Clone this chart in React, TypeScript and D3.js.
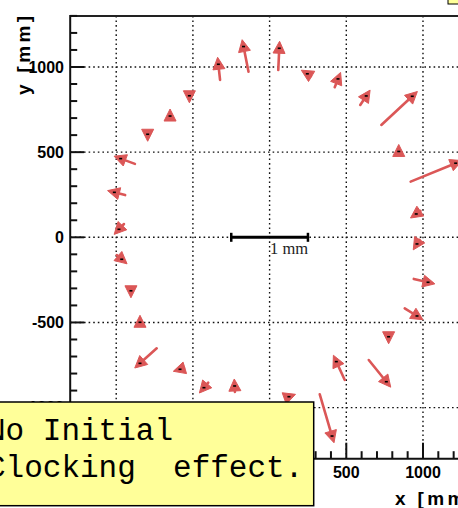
import React from "react";
import * as d3 from "d3";

// Measured positions (dot centres) in mm-units of the plot
const pointX = [-334, -170, 63, 246, 446, 630, 930, 842, 1213, 956, 961, 1033, 961, 776, 761, 435, 407, 126, -228, -428, -584, -845, -845, -904, -964, -982, -1012, -971, -795, -649, -523];
const pointY = [1016, 1120, 1110, 960, 930, 830, 828, 504, 435, 137, -39, -264, -462, -584, -848, -730, -1167, -936, -873, -883, -775, -740, -499, -314, -129, 47, 264, 462, 605, 712, 831];
// Displacement vectors in mm (scale bar: 1 mm)
const shiftX = [-0.022, -0.065, 0.013, -0.048, 0.043, 0.078, 0.403, 0, 0.587, -0.055, -0.033, 0.186, 0.16, 0, 0.229, -0.11, 0.16, 0.046, -0.004, -0.056, -0.052, -0.218, 0, 0, 0.065, -0.065, -0.14, -0.186, 0, 0, 0];
const shiftY = [0.184, 0.296, 0.255, 0.026, 0.097, 0.106, 0.337, 0.035, 0.216, -0.035, -0.047, -0.039, -0.09, -0.035, -0.255, 0.215, -0.49, 0.015, 0.07, -0.059, -0.014, -0.176, 0.032, -0.032, -0.05, -0.062, 0.032, 0.062, -0.035, 0.035, -0.035];

const axisDomain = [-1300, 1300];
const xTicks = [-1000, -500, 0, 500, 1000];
const yTicks = [-1000, -500, 0, 500, 1000];
const unitsPerMm = 500;
const scaleBarLabel = "1 mm";
const xTitle = "x [mm]";
const yTitle = "y [mm]";
const boxLines = ["No Initial", "Clocking  effect."];

const RED = "#db5757";

export default function App() {
  const W = 458;
  const H = 508;
  const x = d3.scaleLinear().domain(axisDomain).range([70.2, 469]);
  const y = d3.scaleLinear().domain(axisDomain).range([458.7, 15.9]);
  const minor = d3.range(axisDomain[0], axisDomain[1] + 1, 100);
  const [x0, x1] = x.range();
  const [y0, y1] = y.range();

  const arrows = pointX.map((px0, i) => {
    const px = x(px0);
    const py = y(pointY[i]);
    const tx = x(px0 - shiftX[i] * unitsPerMm);
    const ty = y(pointY[i] - shiftY[i] * unitsPerMm);
    let dx = px - tx;
    let dy = py - ty;
    const len = Math.hypot(dx, dy);
    if (len < 1e-6) { dx = 0; dy = -1; } else { dx /= len; dy /= len; }
    const nx = -dy, ny = dx;
    const tip = [px + 7 * dx, py + 7 * dy];
    const b = [px - 5 * dx, py - 5 * dy];
    const head = `${tip[0]},${tip[1]} ${b[0] + 6 * nx},${b[1] + 6 * ny} ${b[0] - 6 * nx},${b[1] - 6 * ny}`;
    return { px, py, tx, ty, len, head };
  });

  return (
    <svg width={W} height={H} style={{ position: "absolute", left: 0, top: 0, background: "#fff" }}>
      <rect x={0} y={0} width={W} height={H} fill="#fff" />
      {/* grid */}
      {xTicks.map((t) => (
        <line key={"gx" + t} x1={x(t)} x2={x(t)} y1={y1} y2={y0} stroke="#111" strokeWidth={1.4} strokeDasharray="1.6,3" />
      ))}
      {yTicks.map((t) => (
        <line key={"gy" + t} x1={x0} x2={x1} y1={y(t)} y2={y(t)} stroke="#111" strokeWidth={1.4} strokeDasharray="1.6,3" />
      ))}
      {/* frame */}
      <line x1={x0} x2={x1} y1={y1} y2={y1} stroke="#222" strokeWidth={2} />
      <line x1={x0} x2={x0} y1={y1 - 1} y2={y0 + 1} stroke="#111" strokeWidth={2} />
      <line x1={x0 - 1} x2={x1} y1={y0} y2={y0} stroke="#111" strokeWidth={2} />
      {/* y ticks */}
      {minor.map((t) => {
        const major = t % 500 === 0;
        return <line key={"ty" + t} x1={x0} x2={x0 + (major ? 14 : 7)} y1={y(t)} y2={y(t)} stroke="#111" strokeWidth={2} />;
      })}
      {minor.map((t) => {
        const major = t % 500 === 0;
        return <line key={"tx" + t} x1={x(t)} x2={x(t)} y1={y0} y2={y0 - (major ? 16 : 7.5)} stroke="#111" strokeWidth={2} />;
      })}
      {yTicks.map((t) => (
        <text key={"ly" + t} x={64} y={y(t)} dy="0.36em" textAnchor="end" fontFamily="Liberation Sans, Arial, sans-serif" fontWeight="bold" fontSize={16} fill="#000">
          {t}
        </text>
      ))}
      {xTicks.map((t) => (
        <text key={"lx" + t} x={x(t)} y={478} textAnchor="middle" fontFamily="Liberation Sans, Arial, sans-serif" fontWeight="bold" fontSize={16} fill="#000">
          {t}
        </text>
      ))}
      <text transform="translate(30,16) rotate(-90)" textAnchor="end" fontFamily="Liberation Sans, Arial, sans-serif" fontWeight="bold" fontSize={19} textLength={79} lengthAdjust="spacing" fill="#000">
        {yTitle}
      </text>
      <text x={395} y={505} fontFamily="Liberation Sans, Arial, sans-serif" fontWeight="bold" fontSize={19} textLength={79} lengthAdjust="spacing" fill="#000">
        {xTitle}
      </text>
      {/* scale bar */}
      <g stroke="#000" strokeWidth={3}>
        <line x1={x(-unitsPerMm / 2)} x2={x(unitsPerMm / 2)} y1={y(0)} y2={y(0)} />
        <line x1={x(-unitsPerMm / 2)} x2={x(-unitsPerMm / 2)} y1={y(0) - 4.5} y2={y(0) + 4.5} strokeWidth={2.5} />
        <line x1={x(unitsPerMm / 2)} x2={x(unitsPerMm / 2)} y1={y(0) - 4.5} y2={y(0) + 4.5} strokeWidth={2.5} />
      </g>
      <text x={x(0) + 0.5} y={254} fontFamily="Liberation Serif, Times New Roman, serif" fontSize={16.5} fill="#222">
        {scaleBarLabel}
      </text>
      {/* arrows */}
      {arrows.map((a, i) => (
        <g key={"a" + i}>
          {a.len > 3 && <line x1={a.tx} y1={a.ty} x2={a.px} y2={a.py} stroke={RED} strokeWidth={2.6} strokeLinecap="round" />}
          <polygon points={a.head} fill={RED} stroke={RED} strokeWidth={1} strokeLinejoin="round" />
          <rect x={a.px - 1.5} y={a.py - 0.8} width={3} height={1.6} fill="#000" />
        </g>
      ))}
      {/* top-right pave fragment */}
      <rect x={448} y={-10} width={20} height={14} fill="#ffff99" stroke="#000" strokeWidth={1} />
      {/* comment box */}
      <rect x={-10} y={402} width={323.7} height={103.7} fill="#ffff99" stroke="#000" strokeWidth={1.5} />
      {boxLines.map((s, i) => (
        <text key={"b" + i} x={-13} y={440 + i * 36.7} fontFamily="Liberation Mono, Courier New, monospace" fontSize={31} fill="#000" style={{ whiteSpace: "pre" }}>
          {s}
        </text>
      ))}
    </svg>
  );
}
